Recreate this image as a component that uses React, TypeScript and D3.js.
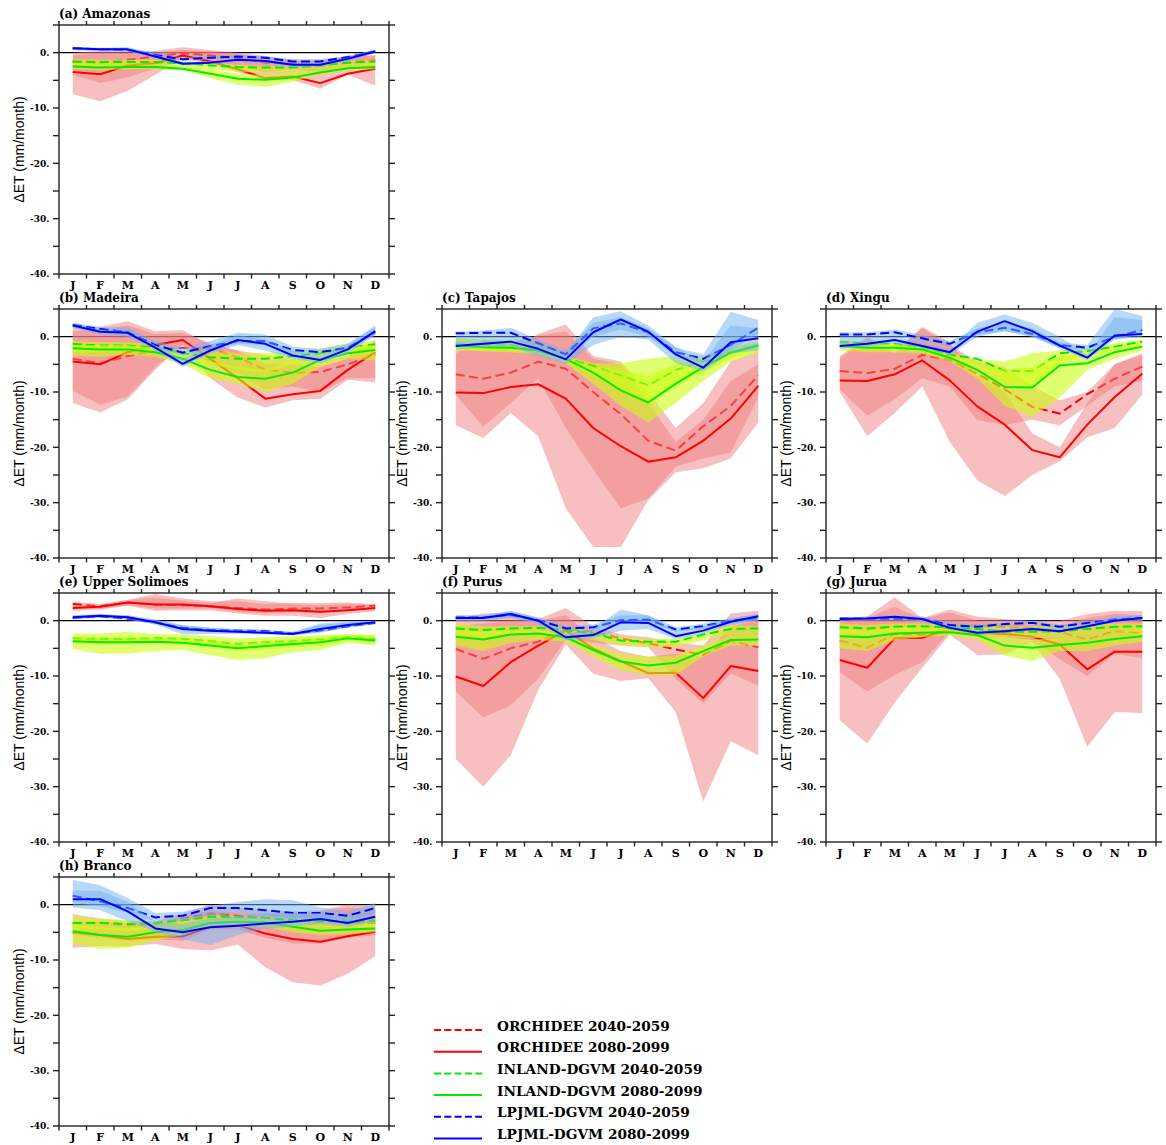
import React from "react";
import * as d3 from "d3";

// ---------- axis definitions ----------
const MONTHS = ["J", "F", "M", "A", "M", "J", "J", "A", "S", "O", "N", "D"];
const Y_LABEL_TICKS = [0, -10, -20, -30, -40];
const Y_ALL_TICKS = [5, 0, -5, -10, -15, -20, -25, -30, -35, -40];
const Y_DOMAIN = [-40, 5];

// ---------- (a) Amazonas ----------
const amzOrc40 = [-1.6, -1.8, -1.3, -0.7, -0.1, -0.5, -1.0, -1.8, -2.0, -2.3, -1.8, -1.4];
const amzOrc80 = [-3.5, -3.9, -2.3, -1.9, -0.5, -1.6, -3.0, -4.6, -4.3, -5.5, -3.8, -2.9];
const amzInl40 = [-1.6, -1.7, -1.7, -1.7, -1.9, -2.3, -2.6, -2.7, -2.7, -2.3, -1.8, -1.6];
const amzInl80 = [-2.5, -2.7, -2.6, -2.6, -2.9, -3.8, -4.7, -4.9, -4.5, -3.6, -2.8, -2.6];
const amzLpj40 = [0.8, 0.6, 0.5, -0.4, -1.2, -0.9, -0.7, -0.9, -1.6, -1.6, -0.8, 0.2];
const amzLpj80 = [0.8, 0.6, 0.6, -0.7, -2.0, -1.8, -1.3, -1.5, -2.2, -2.2, -1.1, 0.2];
const amzOrc40Lo = [-4.0, -5.5, -4.5, -2.8, -0.8, -1.5, -2.5, -3.5, -3.0, -3.5, -3.0, -2.5];
const amzOrc40Hi = [0.0, 0.3, 0.3, 0.3, 1.0, 0.5, 0.0, -0.6, -1.5, -1.5, -0.5, -0.5];
const amzOrc80Lo = [-7.5, -8.8, -6.9, -4.0, -1.0, -2.0, -3.5, -5.0, -5.0, -6.5, -4.0, -6.0];
const amzOrc80Hi = [-0.5, 0.0, 0.0, 0.0, 0.5, 0.2, -0.3, -0.8, -1.2, -1.2, -0.8, -0.5];
const amzInl40Lo = [-2.2, -2.3, -2.2, -2.2, -2.4, -3.0, -3.5, -3.6, -3.4, -3.0, -2.4, -2.2];
const amzInl40Hi = [-1.2, -1.3, -1.3, -1.3, -1.5, -1.8, -2.2, -2.4, -2.4, -2.0, -1.5, -1.3];
const amzInl80Lo = [-3.0, -3.2, -3.0, -3.0, -3.2, -4.6, -5.8, -6.2, -5.2, -4.0, -3.2, -3.0];
const amzInl80Hi = [-2.0, -2.2, -2.1, -2.1, -2.3, -3.0, -3.8, -4.0, -3.6, -3.0, -2.3, -2.0];
const amzLpj40Lo = [0.5, 0.3, 0.2, -0.7, -1.5, -1.2, -1.0, -1.2, -1.9, -1.9, -1.2, -0.1];
const amzLpj40Hi = [1.0, 0.8, 0.9, 0.0, -0.9, -0.6, -0.4, -0.6, -1.3, -1.3, -0.6, 0.5];
const amzLpj80Lo = [0.5, 0.3, 0.3, -1.0, -2.3, -2.1, -1.7, -1.9, -2.6, -2.6, -1.5, -0.1];
const amzLpj80Hi = [1.0, 0.9, 1.0, -0.3, -1.7, -1.5, -1.0, -1.2, -1.9, -1.9, -0.8, 0.6];

// ---------- (b) Madeira ----------
const madOrc40 = [-4.0, -4.8, -3.5, -2.5, -2.0, -2.2, -3.7, -6.0, -6.5, -6.4, -5.0, -3.2];
const madOrc80 = [-4.5, -5.0, -2.8, -1.5, -0.6, -4.0, -7.5, -11.2, -10.4, -9.8, -6.0, -2.8];
const madInl40 = [-1.3, -1.6, -1.6, -2.0, -3.0, -3.7, -4.0, -4.0, -3.5, -3.0, -2.0, -1.4];
const madInl80 = [-2.1, -2.3, -2.3, -2.8, -4.0, -6.0, -7.3, -7.6, -6.5, -4.2, -3.0, -2.4];
const madLpj40 = [2.1, 1.4, 0.8, -1.5, -2.9, -1.7, -0.8, -0.8, -2.4, -2.8, -2.0, 0.8];
const madLpj80 = [2.0, 0.9, 0.7, -2.0, -4.9, -2.5, -0.6, -1.3, -3.4, -4.2, -2.3, 1.0];
const madOrc40Lo = [-9.8, -12.3, -10.8, -5.5, -1.5, -5.0, -6.5, -9.5, -9.0, -10.0, -7.5, -7.5];
const madOrc40Hi = [1.0, 1.3, 2.0, 0.5, 0.7, -1.2, -2.5, -3.3, -4.0, -4.5, -3.5, -0.8];
const madOrc80Lo = [-12.0, -13.7, -11.3, -6.0, -1.5, -7.5, -11.0, -12.8, -11.5, -11.2, -7.8, -8.3];
const madOrc80Hi = [1.5, 1.8, 2.8, 1.0, 1.2, -1.5, -2.5, -5.0, -5.0, -5.5, -4.0, -0.5];
const madInl40Lo = [-2.8, -2.8, -2.6, -3.0, -4.0, -5.0, -6.0, -6.5, -5.0, -4.0, -3.0, -2.8];
const madInl40Hi = [-0.8, -1.0, -1.0, -1.3, -2.5, -2.5, -3.0, -3.0, -2.5, -2.2, -1.2, -0.8];
const madInl80Lo = [-3.5, -3.6, -3.3, -3.6, -5.0, -7.5, -8.5, -10.0, -8.5, -5.5, -4.0, -4.3];
const madInl80Hi = [-1.5, -1.5, -1.5, -2.0, -3.0, -4.5, -5.5, -6.0, -4.5, -3.0, -1.8, -1.5];
const madLpj40Lo = [1.6, 1.0, 0.3, -2.0, -3.5, -2.2, -1.3, -1.5, -3.0, -3.3, -2.5, 0.3];
const madLpj40Hi = [2.5, 1.8, 1.6, -0.8, -2.0, -0.8, 0.7, 0.4, -1.8, -2.2, -1.3, 2.0];
const madLpj80Lo = [1.5, 0.4, 0.0, -2.5, -5.5, -3.0, -1.5, -2.5, -4.0, -4.8, -3.0, 0.2];
const madLpj80Hi = [2.3, 1.3, 1.2, -1.5, -4.0, -1.5, 0.3, -0.5, -2.5, -3.5, -1.5, 1.8];

// ---------- (c) Tapajos ----------
const tapOrc40 = [-6.8, -7.6, -6.5, -4.5, -5.8, -10.0, -14.0, -18.8, -20.6, -16.2, -12.5, -7.0];
const tapOrc80 = [-10.1, -10.2, -9.1, -8.6, -11.2, -16.5, -19.8, -22.6, -21.8, -18.8, -14.8, -8.9];
const tapInl40 = [-1.2, -1.5, -1.5, -2.5, -4.0, -5.3, -7.0, -8.8, -6.0, -4.5, -2.8, -1.5];
const tapInl80 = [-1.5, -1.9, -2.0, -2.5, -4.0, -6.5, -9.7, -11.9, -8.5, -5.5, -2.9, -1.6];
const tapLpj40 = [0.6, 0.7, 0.7, -1.2, -3.2, 1.5, 2.4, 0.8, -2.8, -4.0, -1.5, 1.6];
const tapLpj80 = [-1.7, -1.3, -0.9, -2.2, -4.1, 0.8, 3.1, 0.9, -3.2, -5.6, -1.0, -0.3];
const tapOrc40Lo = [-10.5, -16.3, -12.0, -7.5, -16.5, -24.0, -31.0, -29.3, -23.5, -22.0, -21.0, -11.0];
const tapOrc40Hi = [-3.0, -0.5, -2.5, 0.5, 2.2, -3.5, -4.5, -10.0, -16.5, -12.0, -4.5, -2.5];
const tapOrc80Lo = [-16.0, -18.3, -13.8, -18.0, -31.0, -38.0, -38.0, -29.5, -24.5, -23.8, -22.0, -15.5];
const tapOrc80Hi = [-2.5, -0.5, -1.0, 0.2, 1.0, -4.0, -5.0, -12.0, -19.0, -15.0, -8.0, -5.0];
const tapInl40Lo = [-2.3, -2.5, -2.6, -3.0, -4.5, -7.0, -10.0, -12.0, -9.0, -6.5, -4.0, -2.5];
const tapInl40Hi = [-0.3, -0.5, -0.5, -1.5, -3.5, -4.8, -4.8, -4.0, -3.5, -3.5, -2.0, -0.8];
const tapInl80Lo = [-2.5, -2.7, -2.8, -3.2, -4.8, -8.5, -12.5, -15.5, -12.0, -8.0, -4.5, -3.0];
const tapInl80Hi = [-0.8, -1.0, -1.0, -2.0, -3.8, -5.3, -6.0, -7.0, -5.0, -4.0, -2.0, -1.0];
const tapLpj40Lo = [-0.8, -0.5, -0.3, -2.0, -4.0, 0.0, 1.3, 0.0, -3.5, -4.8, -2.5, 0.5];
const tapLpj40Hi = [0.9, 1.1, 1.6, -0.5, -2.5, 2.5, 3.5, 1.5, -2.0, -3.2, 4.5, 3.0];
const tapLpj80Lo = [-2.3, -2.0, -1.8, -3.5, -5.0, -1.5, 0.0, -0.5, -4.8, -6.3, -3.0, -2.5];
const tapLpj80Hi = [-0.8, -0.5, -0.3, -1.0, -3.0, 3.5, 4.6, 2.0, -1.8, -4.5, 2.0, 1.5];

// ---------- (d) Xingu ----------
const xinOrc40 = [-6.2, -6.6, -5.8, -3.3, -4.2, -6.7, -9.5, -12.7, -13.9, -10.4, -7.6, -5.4];
const xinOrc80 = [-7.9, -8.0, -6.8, -4.3, -7.9, -12.6, -15.9, -20.5, -21.8, -15.9, -10.9, -6.7];
const xinInl40 = [-1.0, -1.2, -1.3, -2.0, -3.3, -4.0, -6.2, -6.2, -3.0, -2.6, -1.8, -0.9];
const xinInl80 = [-1.7, -2.0, -2.0, -2.3, -3.8, -6.0, -9.1, -9.2, -5.2, -4.8, -2.8, -1.8];
const xinLpj40 = [0.4, 0.4, 0.8, -0.3, -1.3, 0.8, 1.6, 0.5, -1.5, -2.0, 0.0, 1.2];
const xinLpj80 = [-1.7, -1.3, -0.6, -1.7, -2.8, 0.9, 2.8, 1.0, -1.6, -3.8, 0.2, 0.5];
const xinOrc40Lo = [-9.5, -14.3, -11.3, -7.5, -9.0, -15.0, -16.0, -15.0, -16.0, -12.5, -9.0, -8.0];
const xinOrc40Hi = [-3.5, 0.0, -2.5, 1.5, -1.5, -4.5, -5.5, -9.0, -11.5, -10.0, -5.0, -3.0];
const xinOrc80Lo = [-10.0, -18.0, -13.8, -9.0, -19.0, -26.0, -28.8, -25.0, -22.5, -18.2, -16.5, -10.5];
const xinOrc80Hi = [-4.0, -0.3, -3.0, 1.8, -1.0, -7.0, -10.0, -17.5, -20.0, -12.0, -5.0, -3.3];
const xinInl40Lo = [-1.8, -2.0, -2.0, -2.6, -4.0, -5.5, -8.5, -9.0, -5.0, -3.5, -2.5, -1.5];
const xinInl40Hi = [-0.5, -1.0, -1.0, -1.5, -3.0, -4.0, -4.5, -3.0, -2.5, -2.0, -1.2, -0.5];
const xinInl80Lo = [-2.5, -2.8, -2.8, -3.0, -4.5, -7.5, -12.5, -14.5, -11.0, -6.0, -4.0, -2.5];
const xinInl80Hi = [-1.0, -1.3, -1.3, -1.8, -3.3, -5.0, -6.0, -5.5, -3.5, -3.0, -2.0, -1.0];
const xinLpj40Lo = [-0.5, -0.3, 0.0, -0.8, -1.8, 0.3, 1.0, 0.0, -2.0, -2.5, -0.5, 0.5];
const xinLpj40Hi = [0.8, 0.8, 1.3, 0.3, -0.8, 1.5, 2.5, 1.5, -1.0, -1.5, 5.0, 3.8];
const xinLpj80Lo = [-2.2, -1.8, -1.2, -2.0, -3.3, 0.0, 1.0, 0.0, -2.2, -4.2, -0.5, 0.0];
const xinLpj80Hi = [-0.5, -0.3, 0.0, -1.0, -2.3, 2.5, 4.0, 2.5, 0.0, -3.3, 3.5, 3.0];

// ---------- (e) Upper Solimoes ----------
const solOrc40 = [3.0, 2.6, 3.3, 2.9, 2.8, 2.6, 2.3, 2.0, 2.2, 2.2, 2.4, 2.7];
const solOrc80 = [2.3, 2.5, 3.3, 2.9, 2.9, 2.6, 2.1, 1.8, 1.9, 1.6, 1.9, 2.3];
const solInl40 = [-3.2, -3.3, -3.3, -3.2, -3.3, -3.7, -4.2, -3.9, -3.7, -3.4, -3.0, -3.3];
const solInl80 = [-3.7, -3.9, -3.9, -3.8, -4.0, -4.5, -5.0, -4.6, -4.2, -3.9, -3.2, -3.6];
const solLpj40 = [0.5, 0.8, 0.4, -0.3, -1.3, -1.7, -1.8, -1.9, -2.3, -1.8, -1.0, -0.4];
const solLpj80 = [0.6, 0.9, 0.6, -0.3, -1.5, -1.8, -2.0, -2.2, -2.4, -1.5, -0.8, -0.3];
const solOrc40Lo = [2.4, 2.1, 2.8, 2.2, 2.2, 2.2, 1.6, 1.3, 1.5, 1.3, 1.8, 2.2];
const solOrc40Hi = [3.4, 3.0, 3.8, 4.8, 4.0, 3.5, 3.5, 3.0, 3.2, 3.2, 3.3, 3.0];
const solOrc80Lo = [1.8, 2.0, 2.7, 1.8, 1.9, 1.9, 1.3, 0.9, 0.9, 0.5, 1.2, 1.7];
const solOrc80Hi = [2.8, 2.8, 3.7, 4.2, 3.6, 3.2, 4.0, 3.5, 3.0, 2.8, 3.0, 2.8];
const solInl40Lo = [-4.0, -4.3, -4.2, -4.0, -4.2, -4.8, -5.5, -5.2, -4.8, -4.5, -3.6, -4.0];
const solInl40Hi = [-2.3, -2.3, -2.0, -2.4, -2.5, -2.8, -3.2, -3.0, -2.8, -2.6, -2.4, -2.5];
const solInl80Lo = [-5.1, -6.0, -6.0, -5.5, -5.3, -6.2, -7.1, -6.8, -5.7, -5.3, -4.0, -4.5];
const solInl80Hi = [-2.8, -3.0, -3.0, -3.0, -3.1, -3.5, -4.0, -3.6, -3.3, -3.0, -2.6, -2.8];
const solLpj40Lo = [0.2, 0.5, 0.1, -0.6, -1.8, -2.1, -2.2, -2.3, -2.6, -2.1, -1.3, -0.7];
const solLpj40Hi = [0.9, 1.1, 0.9, 0.1, -0.9, -1.3, -1.5, -1.6, -2.0, -0.8, -0.3, 0.0];
const solLpj80Lo = [0.3, 0.6, 0.3, -0.7, -2.5, -2.4, -2.4, -2.5, -2.7, -2.2, -1.2, -0.6];
const solLpj80Hi = [1.0, 1.2, 1.0, 0.2, -0.8, -1.3, -1.6, -1.8, -2.1, -0.5, -0.2, 0.0];

// ---------- (f) Purus ----------
const purOrc40 = [-5.1, -6.9, -5.0, -3.8, -1.5, -2.0, -3.2, -4.1, -5.2, -6.2, -3.7, -4.8];
const purOrc80 = [-10.1, -11.8, -7.5, -4.5, -1.8, -5.0, -7.3, -9.5, -9.4, -14.0, -8.2, -9.1];
const purInl40 = [-1.4, -1.7, -1.4, -1.3, -1.7, -2.3, -3.6, -3.8, -3.8, -2.5, -1.5, -1.4];
const purInl80 = [-2.9, -3.4, -2.5, -2.3, -3.0, -5.3, -7.4, -8.1, -7.6, -5.5, -3.5, -3.4];
const purLpj40 = [0.6, 0.6, 1.0, 0.1, -1.4, -1.2, 0.1, 0.2, -1.6, -1.0, 0.0, 0.5];
const purLpj80 = [0.5, 0.5, 1.2, 0.0, -3.0, -2.6, -0.3, -0.4, -2.8, -1.8, -0.2, 0.8];
const purOrc40Lo = [-12.8, -17.5, -15.3, -10.5, -3.5, -4.0, -4.5, -4.8, -10.5, -15.0, -9.5, -11.7];
const purOrc40Hi = [0.5, 1.3, 1.5, 0.3, 2.3, -1.0, -2.5, -3.0, -4.0, -4.5, 1.3, 1.8];
const purOrc80Lo = [-25.0, -30.0, -24.3, -12.5, -4.3, -9.6, -10.9, -10.4, -16.5, -32.7, -21.8, -24.3];
const purOrc80Hi = [-1.0, -0.5, 0.0, 0.0, 1.0, -3.0, -5.5, -6.5, -6.0, -6.5, -1.0, 0.0];
const purInl40Lo = [-2.5, -3.0, -2.5, -2.3, -2.5, -3.5, -4.5, -4.8, -4.8, -3.5, -2.5, -2.3];
const purInl40Hi = [-0.5, -1.0, -1.0, -1.0, -1.3, -1.8, -3.0, -3.3, -3.3, -2.0, -0.8, -1.0];
const purInl80Lo = [-4.5, -5.5, -4.0, -3.5, -3.8, -6.5, -9.0, -9.8, -9.8, -6.5, -4.5, -4.5];
const purInl80Hi = [-1.8, -2.0, -1.8, -1.8, -2.3, -4.3, -6.0, -6.5, -6.3, -4.5, -2.5, -2.3];
const purLpj40Lo = [0.2, 0.2, 0.6, -0.3, -1.8, -1.7, -0.6, -0.4, -2.0, -1.5, -0.5, 0.1];
const purLpj40Hi = [1.0, 1.0, 1.6, 0.6, -1.0, -0.7, 1.0, 1.0, -1.2, -0.5, 0.5, 1.1];
const purLpj80Lo = [0.0, 0.0, 0.5, -0.5, -3.5, -3.2, -1.8, -1.5, -3.3, -2.3, -0.8, 0.0];
const purLpj80Hi = [0.9, 0.9, 1.8, 0.5, -2.3, -1.5, 2.0, 1.0, -1.8, -1.0, 0.3, 1.3];

// ---------- (g) Jurua ----------
const jurOrc40 = [-3.6, -4.9, -2.4, -2.6, -1.2, -0.9, -1.2, -1.3, -2.0, -3.4, -1.9, -2.2];
const jurOrc80 = [-7.1, -8.5, -3.2, -3.1, -1.5, -2.3, -2.4, -2.9, -4.3, -8.8, -5.6, -5.6];
const jurInl40 = [-1.2, -1.4, -1.1, -1.0, -1.2, -1.5, -2.0, -2.0, -1.9, -1.5, -1.1, -1.0];
const jurInl80 = [-2.8, -3.0, -2.3, -2.2, -2.1, -2.6, -4.5, -4.9, -4.4, -4.0, -3.3, -2.8];
const jurLpj40 = [0.4, 0.4, 0.4, 0.3, -0.8, -1.1, -0.6, -0.4, -1.1, -0.4, 0.2, 0.5];
const jurLpj80 = [0.3, 0.4, 0.7, 0.3, -1.3, -2.2, -1.9, -1.5, -1.9, -1.0, 0.0, 0.5];
const jurOrc40Lo = [-9.3, -12.8, -9.8, -7.5, -2.0, -3.0, -3.0, -3.5, -7.0, -10.0, -6.0, -6.8];
const jurOrc40Hi = [0.3, 0.8, 4.2, 0.5, 2.0, 0.7, 0.3, 0.0, 0.0, 1.2, 1.8, 1.7];
const jurOrc80Lo = [-18.0, -22.2, -14.8, -8.5, -2.5, -6.2, -6.1, -4.0, -10.5, -22.8, -16.5, -16.7];
const jurOrc80Hi = [-0.3, 0.5, 2.5, 0.3, 1.5, 0.0, -0.5, -0.8, -1.0, 0.5, 1.2, 1.0];
const jurInl40Lo = [-2.3, -2.6, -2.0, -1.9, -2.0, -2.3, -3.0, -3.2, -3.0, -2.5, -2.0, -2.0];
const jurInl40Hi = [-0.5, -0.8, -0.5, -0.5, -0.8, -0.8, -1.0, -1.0, -1.0, -0.8, -0.5, -0.5];
const jurInl80Lo = [-5.0, -5.5, -3.5, -3.0, -2.7, -3.5, -6.3, -7.3, -5.5, -5.5, -4.5, -3.8];
const jurInl80Hi = [-1.5, -1.8, -1.3, -1.3, -1.5, -1.8, -3.0, -3.5, -3.0, -2.5, -2.0, -1.5];
const jurLpj40Lo = [0.1, 0.1, 0.1, 0.0, -1.1, -1.4, -0.9, -0.7, -1.4, -0.7, -0.1, 0.2];
const jurLpj40Hi = [0.6, 0.7, 0.8, 0.8, -0.3, -0.7, -0.3, 0.0, -0.7, -0.1, 0.6, 0.9];
const jurLpj80Lo = [0.0, 0.1, 0.3, 0.0, -1.6, -2.5, -2.2, -1.8, -2.2, -1.3, -0.3, 0.2];
const jurLpj80Hi = [0.5, 0.7, 1.0, 0.6, -0.9, -1.8, -1.5, -1.2, -1.5, -0.6, 0.7, 1.0];

// ---------- (h) Branco ----------
const braOrc40 = [-3.3, -3.3, -3.7, -3.5, -2.5, -1.6, -2.0, -2.3, -2.8, -3.1, -3.3, -3.3];
const braOrc80 = [-5.0, -5.5, -6.2, -5.8, -5.7, -4.0, -3.7, -5.2, -6.2, -6.7, -5.7, -4.9];
const braInl40 = [-3.3, -3.3, -3.5, -3.3, -2.8, -2.2, -2.2, -2.4, -2.8, -3.0, -2.9, -2.9];
const braInl80 = [-4.8, -5.5, -5.8, -5.0, -4.6, -3.3, -3.1, -3.2, -4.0, -4.7, -4.5, -4.3];
const braLpj40 = [1.6, 0.6, -0.6, -2.3, -2.0, -0.6, -0.6, -1.0, -1.5, -1.5, -2.0, -0.6];
const braLpj80 = [1.0, 1.0, -1.2, -4.3, -5.0, -4.1, -3.8, -3.4, -3.1, -2.6, -3.3, -2.2];
const braOrc40Lo = [-5.5, -6.0, -6.5, -6.3, -6.5, -4.5, -4.5, -6.0, -7.0, -7.0, -6.0, -5.5];
const braOrc40Hi = [-1.7, -2.5, -3.0, -3.0, -1.5, 0.0, -0.5, -1.0, -1.2, -1.0, 0.0, -0.3];
const braOrc80Lo = [-7.8, -7.5, -7.5, -7.1, -8.0, -8.3, -7.2, -11.3, -14.0, -14.6, -12.5, -9.3];
const braOrc80Hi = [-3.0, -3.0, -3.5, -3.5, -2.0, -1.0, -1.5, -1.8, -1.5, -1.2, -0.5, -1.0];
const braInl40Lo = [-4.5, -4.5, -4.8, -4.5, -4.0, -3.0, -3.0, -3.2, -3.8, -4.0, -4.0, -4.0];
const braInl40Hi = [-2.0, -2.5, -2.8, -3.0, -2.5, -2.0, -2.0, -2.0, -2.3, -2.5, -2.5, -2.5];
const braInl80Lo = [-7.0, -8.0, -7.8, -6.5, -5.5, -4.0, -4.0, -4.0, -5.0, -5.5, -5.3, -5.0];
const braInl80Hi = [-3.5, -4.0, -4.3, -4.0, -3.5, -2.8, -2.5, -2.5, -3.3, -3.8, -3.8, -3.5];
const braLpj40Lo = [0.3, -0.3, -1.5, -3.0, -3.0, -2.0, -1.5, -2.0, -2.5, -2.5, -3.0, -1.5];
const braLpj40Hi = [4.5, 3.5, 1.2, -1.5, -1.3, -0.2, 0.5, 1.0, 0.8, -0.5, -1.2, 0.3];
const braLpj80Lo = [-0.5, -1.0, -3.0, -5.0, -6.3, -7.3, -5.5, -4.3, -4.0, -3.5, -4.0, -3.0];
const braLpj80Hi = [2.5, 2.5, 0.5, -3.0, -3.5, -2.5, -2.0, -1.5, -1.5, -1.5, -2.5, -1.0];

// ---------- legend ----------
const LEGEND_LABELS = [
  "ORCHIDEE 2040-2059",
  "ORCHIDEE 2080-2099",
  "INLAND-DGVM 2040-2059",
  "INLAND-DGVM 2080-2099",
  "LPJML-DGVM 2040-2059",
  "LPJML-DGVM 2080-2099",
];

// ---------- styling ----------
const LINE_COLORS = ["#ff0000", "#00ee00", "#0000ff"];
const BAND_COLORS = ["#f08080", "#cbff11", "#71b1f1"];
const BAND_OPACITY = [0.5, 0.6, 0.5];
const DASH = "9 4.5";
const SERIF = "'DejaVu Serif', serif";
const SANS = "'Liberation Sans', Arial, sans-serif";

const PANEL_W = 330;
const PANEL_H = 249;
const COL_X = [59, 442, 826];
const ROW_Y = [25, 309, 593, 877];

type Run = { v: number[]; lo: number[]; hi: number[] };
type PanelSpec = { id: string; title: string; col: number; row: number; runs: Run[] };

// Each panel holds six runs: model order ORCHIDEE, INLAND, LPJML; periods 2040, 2080.
const PANELS: PanelSpec[] = [
  {
    id: "amz", title: "(a) Amazonas", col: 0, row: 0,
    runs: [
      { v: amzOrc40, lo: amzOrc40Lo, hi: amzOrc40Hi }, { v: amzOrc80, lo: amzOrc80Lo, hi: amzOrc80Hi },
      { v: amzInl40, lo: amzInl40Lo, hi: amzInl40Hi }, { v: amzInl80, lo: amzInl80Lo, hi: amzInl80Hi },
      { v: amzLpj40, lo: amzLpj40Lo, hi: amzLpj40Hi }, { v: amzLpj80, lo: amzLpj80Lo, hi: amzLpj80Hi },
    ],
  },
  {
    id: "mad", title: "(b) Madeira", col: 0, row: 1,
    runs: [
      { v: madOrc40, lo: madOrc40Lo, hi: madOrc40Hi }, { v: madOrc80, lo: madOrc80Lo, hi: madOrc80Hi },
      { v: madInl40, lo: madInl40Lo, hi: madInl40Hi }, { v: madInl80, lo: madInl80Lo, hi: madInl80Hi },
      { v: madLpj40, lo: madLpj40Lo, hi: madLpj40Hi }, { v: madLpj80, lo: madLpj80Lo, hi: madLpj80Hi },
    ],
  },
  {
    id: "tap", title: "(c) Tapajos", col: 1, row: 1,
    runs: [
      { v: tapOrc40, lo: tapOrc40Lo, hi: tapOrc40Hi }, { v: tapOrc80, lo: tapOrc80Lo, hi: tapOrc80Hi },
      { v: tapInl40, lo: tapInl40Lo, hi: tapInl40Hi }, { v: tapInl80, lo: tapInl80Lo, hi: tapInl80Hi },
      { v: tapLpj40, lo: tapLpj40Lo, hi: tapLpj40Hi }, { v: tapLpj80, lo: tapLpj80Lo, hi: tapLpj80Hi },
    ],
  },
  {
    id: "xin", title: "(d) Xingu", col: 2, row: 1,
    runs: [
      { v: xinOrc40, lo: xinOrc40Lo, hi: xinOrc40Hi }, { v: xinOrc80, lo: xinOrc80Lo, hi: xinOrc80Hi },
      { v: xinInl40, lo: xinInl40Lo, hi: xinInl40Hi }, { v: xinInl80, lo: xinInl80Lo, hi: xinInl80Hi },
      { v: xinLpj40, lo: xinLpj40Lo, hi: xinLpj40Hi }, { v: xinLpj80, lo: xinLpj80Lo, hi: xinLpj80Hi },
    ],
  },
  {
    id: "sol", title: "(e) Upper Solimoes", col: 0, row: 2,
    runs: [
      { v: solOrc40, lo: solOrc40Lo, hi: solOrc40Hi }, { v: solOrc80, lo: solOrc80Lo, hi: solOrc80Hi },
      { v: solInl40, lo: solInl40Lo, hi: solInl40Hi }, { v: solInl80, lo: solInl80Lo, hi: solInl80Hi },
      { v: solLpj40, lo: solLpj40Lo, hi: solLpj40Hi }, { v: solLpj80, lo: solLpj80Lo, hi: solLpj80Hi },
    ],
  },
  {
    id: "pur", title: "(f) Purus", col: 1, row: 2,
    runs: [
      { v: purOrc40, lo: purOrc40Lo, hi: purOrc40Hi }, { v: purOrc80, lo: purOrc80Lo, hi: purOrc80Hi },
      { v: purInl40, lo: purInl40Lo, hi: purInl40Hi }, { v: purInl80, lo: purInl80Lo, hi: purInl80Hi },
      { v: purLpj40, lo: purLpj40Lo, hi: purLpj40Hi }, { v: purLpj80, lo: purLpj80Lo, hi: purLpj80Hi },
    ],
  },
  {
    id: "jur", title: "(g) Jurua", col: 2, row: 2,
    runs: [
      { v: jurOrc40, lo: jurOrc40Lo, hi: jurOrc40Hi }, { v: jurOrc80, lo: jurOrc80Lo, hi: jurOrc80Hi },
      { v: jurInl40, lo: jurInl40Lo, hi: jurInl40Hi }, { v: jurInl80, lo: jurInl80Lo, hi: jurInl80Hi },
      { v: jurLpj40, lo: jurLpj40Lo, hi: jurLpj40Hi }, { v: jurLpj80, lo: jurLpj80Lo, hi: jurLpj80Hi },
    ],
  },
  {
    id: "bra", title: "(h) Branco", col: 0, row: 3,
    runs: [
      { v: braOrc40, lo: braOrc40Lo, hi: braOrc40Hi }, { v: braOrc80, lo: braOrc80Lo, hi: braOrc80Hi },
      { v: braInl40, lo: braInl40Lo, hi: braInl40Hi }, { v: braInl80, lo: braInl80Lo, hi: braInl80Hi },
      { v: braLpj40, lo: braLpj40Lo, hi: braLpj40Hi }, { v: braLpj80, lo: braLpj80Lo, hi: braLpj80Hi },
    ],
  },
];

const fmtTick = (v: number) => `${v}.`;

function Panel({ spec }: { spec: PanelSpec }) {
  const x0 = COL_X[spec.col];
  const y0 = ROW_Y[spec.row];
  const x = d3.scaleLinear().domain([-0.5, 11.5]).range([x0, x0 + PANEL_W]);
  const y = d3.scaleLinear().domain(Y_DOMAIN).range([y0 + PANEL_H, y0]);
  const idx = d3.range(MONTHS.length);

  const lineGen = (vals: number[]) =>
    d3.line<number>().x((i) => x(i)).y((i) => y(vals[i]))(idx) || "";
  const areaGen = (lo: number[], hi: number[]) =>
    d3.area<number>().x((i) => x(i)).y0((i) => y(lo[i])).y1((i) => y(hi[i]))(idx) || "";

  const clipId = `clip-${spec.id}`;
  const xBoundaries = d3.range(13).map((i) => i - 0.5);
  const frame = "#222";

  return (
    <g>
      <defs>
        <clipPath id={clipId}>
          <rect x={x0} y={y0} width={PANEL_W} height={PANEL_H} />
        </clipPath>
      </defs>
      <g clipPath={`url(#${clipId})`}>
        <line x1={x0} x2={x0 + PANEL_W} y1={y(0)} y2={y(0)} stroke="#000" strokeWidth={1.2} />
        {spec.runs.map((r, k) => {
          const m = Math.floor(k / 2);
          const dashed = k % 2 === 0;
          return (
            <g key={k}>
              <path d={areaGen(r.lo, r.hi)} fill={BAND_COLORS[m]} fillOpacity={BAND_OPACITY[m]} stroke="none" />
              <path
                d={lineGen(r.v)}
                fill="none"
                stroke={LINE_COLORS[m]}
                strokeWidth={2}
                strokeDasharray={dashed ? DASH : undefined}
                strokeLinejoin="round"
              />
            </g>
          );
        })}
      </g>
      {/* frame */}
      <rect x={x0} y={y0} width={PANEL_W} height={PANEL_H} fill="none" stroke={frame} strokeWidth={1.4} />
      {xBoundaries.map((b) => (
        <g key={`xt${b}`}>
          <line x1={x(b)} x2={x(b)} y1={y0} y2={y0 - 4} stroke={frame} strokeWidth={1.4} />
          <line x1={x(b)} x2={x(b)} y1={y0 + PANEL_H} y2={y0 + PANEL_H + 4.5} stroke={frame} strokeWidth={1.4} />
        </g>
      ))}
      {Y_ALL_TICKS.map((t) => (
        <g key={`yt${t}`}>
          <line x1={x0} x2={x0 - 6} y1={y(t)} y2={y(t)} stroke={frame} strokeWidth={1.4} />
          <line x1={x0 + PANEL_W} x2={x0 + PANEL_W + 6} y1={y(t)} y2={y(t)} stroke={frame} strokeWidth={1.4} />
        </g>
      ))}
      {Y_LABEL_TICKS.map((t) => (
        <text
          key={`yl${t}`}
          x={x0 - 9.5}
          y={y(t) + 3.3}
          textAnchor="end"
          fontFamily={SERIF}
          fontWeight="bold"
          fontSize={9}
          fill="#000"
        >
          {fmtTick(t)}
        </text>
      ))}
      {MONTHS.map((m, i) => (
        <text
          key={`m${i}`}
          x={x(i)}
          y={y0 + PANEL_H + 14.5}
          textAnchor="middle"
          fontFamily={SERIF}
          fontWeight="bold"
          fontSize={11}
          fill="#000"
        >
          {m}
        </text>
      ))}
      <text x={x0} y={y0 - 6.8} fontFamily={SERIF} fontWeight="bold" fontSize={12} fill="#000">
        {spec.title}
      </text>
      <text
        transform={`translate(${x0 - 35},${y0 + PANEL_H / 2}) rotate(-90)`}
        textAnchor="middle"
        fontFamily={SANS}
        fontSize={14}
        fill="#000"
      >
        ΔET (mm/month)
      </text>
    </g>
  );
}

function Legend() {
  const x1 = 434;
  const x2 = 482;
  const tx = 497;
  const base = 1030.5;
  const step = 21.7;
  return (
    <g>
      {LEGEND_LABELS.map((label, i) => {
        const m = Math.floor(i / 2);
        const dashed = i % 2 === 0;
        const yy = base + i * step;
        return (
          <g key={label}>
            <line
              x1={x1}
              x2={x2}
              y1={yy - 0.5}
              y2={yy - 0.5}
              stroke={LINE_COLORS[m]}
              strokeWidth={2}
              strokeDasharray={dashed ? "7 3.3" : undefined}
            />
            <text x={tx} y={yy} fontFamily={SERIF} fontWeight="bold" fontSize={13.7} fill="#000">
              {label}
            </text>
          </g>
        );
      })}
    </g>
  );
}

export default function App() {
  return (
    <svg
      width={1166}
      height={1145}
      viewBox="0 0 1166 1145"
      style={{ position: "absolute", left: 0, top: 0, display: "block", background: "#fff" }}
    >
      <rect x={0} y={0} width={1166} height={1145} fill="#fff" />
      {PANELS.map((p) => (
        <Panel key={p.id} spec={p} />
      ))}
      <Legend />
    </svg>
  );
}
